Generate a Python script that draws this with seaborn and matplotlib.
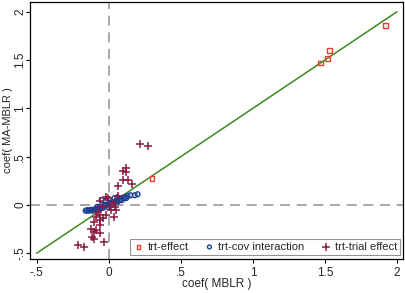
import pandas as pd
import numpy as np
import matplotlib
matplotlib.use('Agg')
import matplotlib.pyplot as plt
import seaborn as sns

# coefficients
eff_x = [0.30, 1.47, 1.516, 1.53, 1.918]
eff_y = [0.27, 1.47, 1.52, 1.60, 1.858]

cov_x = [-0.16, -0.15, -0.14, -0.13, -0.12, -0.11, -0.10, -0.09, -0.08, -0.07,
         -0.06, -0.05, -0.04, -0.03, -0.02, -0.01, 0.00, 0.01, 0.02, 0.03,
         0.04, 0.05, 0.06, 0.07, 0.08, 0.09, 0.10, 0.11, 0.12, 0.13,
         0.15, 0.18, 0.20, -0.05, -0.02, 0.00, -0.08, 0.04, 0.06]
cov_y = [-0.06, -0.055, -0.06, -0.055, -0.05, -0.06, -0.05, -0.04, -0.055, -0.03,
         -0.04, -0.02, -0.03, -0.01, 0.00, -0.02, 0.01, 0.02, 0.00, 0.03,
         0.02, 0.04, 0.03, 0.05, 0.06, 0.05, 0.07, 0.08, 0.07, 0.09,
         0.10, 0.10, 0.11, 0.05, 0.04, 0.06, -0.02, 0.07, 0.08]

trial_x = [0.22, 0.27, 0.118, 0.10, 0.123, 0.065, 0.10, 0.135, 0.158, -0.02,
           -0.005, -0.063, 0.065, 0.03, 0.042, 0.053, 0.019, -0.074, -0.063, -0.086,
           -0.063, -0.04, -0.016, 0.035, -0.10, -0.12, -0.09, -0.10, -0.063, -0.114,
           -0.10, -0.035, -0.21, -0.17, -0.06, 0.007, -0.04]
trial_y = [0.63, 0.61, 0.38, 0.355, 0.34, 0.197, 0.26, 0.26, 0.22, 0.086,
           0.07, 0.045, 0.093, 0.024, -0.018, -0.05, -0.05, -0.07, -0.10, -0.12,
           -0.155, -0.14, -0.10, -0.13, -0.18, -0.25, -0.26, -0.28, -0.29, -0.335,
           -0.355, -0.38, -0.41, -0.44, -0.21, -0.02, -0.02]

ticks = [-0.5, 0, 0.5, 1, 1.5, 2]
tick_labels = ['-.5', '0', '.5', '1', '1.5', '2']

sns.set_style('ticks')
plt.rcParams['font.family'] = ['Liberation Sans', 'DejaVu Sans']

fig = plt.figure(figsize=(4.06, 2.93), dpi=100)
ax = fig.add_axes([0.0751, 0.1177, 0.9187, 0.8765])

ax.axhline(0, color='#999999', linestyle=(0, (6, 4)), linewidth=1.2, zorder=1)
ax.axvline(0, color='#999999', linestyle=(0, (6, 4)), linewidth=1.2, zorder=1)
ax.plot([-0.5, 2], [-0.5, 2], color='#3a8a1e', linewidth=1.1, zorder=2)

sns.scatterplot(x=eff_x, y=eff_y, ax=ax, marker='s', s=12, facecolor='none',
                edgecolor='#e8402c', linewidth=1.0, label='trt-effect', zorder=3)
sns.scatterplot(x=cov_x, y=cov_y, ax=ax, marker='o', s=12, facecolor='none',
                edgecolor='#1c3f94', linewidth=1.0, label='trt-cov interaction', zorder=3)
sns.scatterplot(x=trial_x, y=trial_y, ax=ax, marker='+', s=40, color='#8c1c3f',
                linewidth=1.1, label='trt-trial effect', zorder=3)

ax.set_xlim(-0.543, 2.045)
ax.set_ylim(-0.555, 2.104)
ax.set_xticks(ticks)
ax.set_xticklabels(tick_labels)
ax.set_yticks(ticks)
ax.set_yticklabels(tick_labels, rotation=90, va='center')
ax.tick_params(labelsize=8.5, length=3, width=0.8, color='black')
ax.tick_params(axis='y', pad=0)
ax.tick_params(axis='x', pad=3)
for s in ax.spines.values():
    s.set_color('black')
    s.set_linewidth(0.9)

ax.set_xlabel('coef( MBLR )', fontsize=8.5, va='top')
ax.xaxis.set_label_coords(0.5, -0.075)
ax.set_ylabel('coef( MA-MBLR )', fontsize=8)
ax.yaxis.set_label_coords(-0.048, 0.5)

leg = ax.legend(loc='lower right', ncol=3, fontsize=8, frameon=True, fancybox=False,
                edgecolor='#777777', borderpad=0.3, handletextpad=0.3, columnspacing=1.4,
                handlelength=1.0, markerscale=0.8, borderaxespad=0.3)
leg.get_frame().set_linewidth(0.8)

fig.savefig('out.png', dpi=100)
